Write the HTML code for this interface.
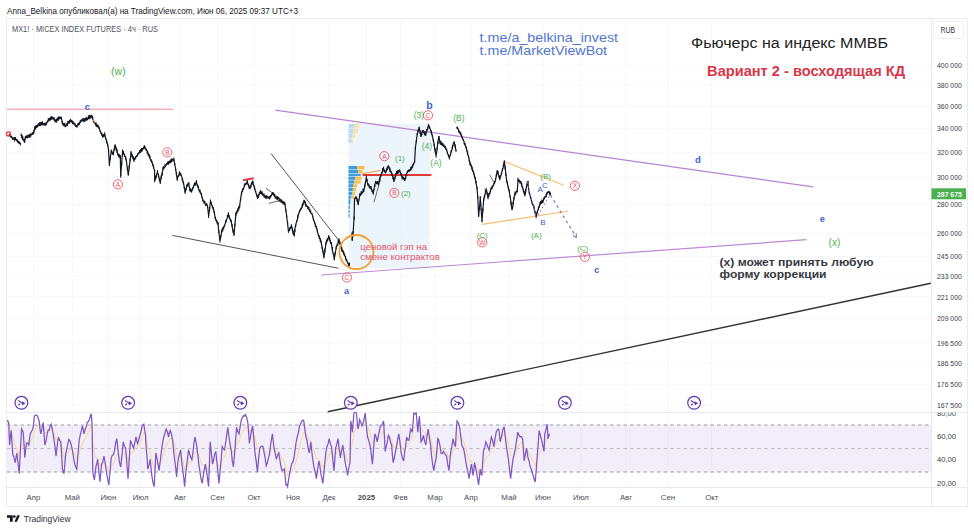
<!DOCTYPE html><html><head><meta charset="utf-8"><style>html,body{margin:0;padding:0;background:#fff;width:974px;height:531px;overflow:hidden}svg{display:block;font-family:"Liberation Sans", sans-serif}</style></head><body>
<svg width="974" height="531" viewBox="0 0 974 531">
<text x="7" y="13.8" font-size="9.6" fill="#131722" textLength="291" lengthAdjust="spacingAndGlyphs">Anna_Belkina опубликовал(а) на TradingView.com, Июн 06, 2025 09:37 UTC+3</text>
<g stroke="#f7f8fa" stroke-width="1"><line x1="33.5" y1="19" x2="33.5" y2="487" /><line x1="72.3" y1="19" x2="72.3" y2="487" /><line x1="108.4" y1="19" x2="108.4" y2="487" /><line x1="140.6" y1="19" x2="140.6" y2="487" /><line x1="180" y1="19" x2="180" y2="487" /><line x1="217.5" y1="19" x2="217.5" y2="487" /><line x1="254" y1="19" x2="254" y2="487" /><line x1="293" y1="19" x2="293" y2="487" /><line x1="328.9" y1="19" x2="328.9" y2="487" /><line x1="366.4" y1="19" x2="366.4" y2="487" /><line x1="400.5" y1="19" x2="400.5" y2="487" /><line x1="435" y1="19" x2="435" y2="487" /><line x1="471" y1="19" x2="471" y2="487" /><line x1="509" y1="19" x2="509" y2="487" /><line x1="543" y1="19" x2="543" y2="487" /><line x1="581" y1="19" x2="581" y2="487" /><line x1="626" y1="19" x2="626" y2="487" /><line x1="668" y1="19" x2="668" y2="487" /><line x1="711.7" y1="19" x2="711.7" y2="487" /><line x1="7" y1="65.0" x2="931" y2="65.0" /><line x1="7" y1="85.0" x2="931" y2="85.0" /><line x1="7" y1="106.2" x2="931" y2="106.2" /><line x1="7" y1="128.5" x2="931" y2="128.5" /><line x1="7" y1="152.2" x2="931" y2="152.2" /><line x1="7" y1="177.4" x2="931" y2="177.4" /><line x1="7" y1="204.4" x2="931" y2="204.4" /><line x1="7" y1="233.3" x2="931" y2="233.3" /><line x1="7" y1="256.5" x2="931" y2="256.5" /><line x1="7" y1="276.1" x2="931" y2="276.1" /><line x1="7" y1="296.8" x2="931" y2="296.8" /><line x1="7" y1="318.6" x2="931" y2="318.6" /><line x1="7" y1="342.7" x2="931" y2="342.7" /><line x1="7" y1="363.1" x2="931" y2="363.1" /><line x1="7" y1="384.6" x2="931" y2="384.6" /><line x1="7" y1="405.1" x2="931" y2="405.1" /></g>
<rect x="6.5" y="18.5" width="961" height="488" fill="none" stroke="#ebecf0" stroke-width="1"/>
<line x1="931.5" y1="19" x2="931.5" y2="506" stroke="#e8e9ee"/>
<line x1="7" y1="412.5" x2="967" y2="412.5" stroke="#e8e9ee"/>
<line x1="7" y1="487.5" x2="967" y2="487.5" stroke="#e8e9ee"/>
<rect x="933.5" y="21.5" width="30" height="17" rx="2" fill="#fff" stroke="#eceef2"/>
<text x="940.5" y="32.9" font-size="8.6" fill="#333" textLength="14.6" lengthAdjust="spacingAndGlyphs">RUB</text>
<text x="937" y="67.8" font-size="7.6" fill="#3a3d45" textLength="24.8" lengthAdjust="spacingAndGlyphs">400 000</text>
<text x="937" y="87.8" font-size="7.6" fill="#3a3d45" textLength="24.8" lengthAdjust="spacingAndGlyphs">380 000</text>
<text x="937" y="109.0" font-size="7.6" fill="#3a3d45" textLength="24.8" lengthAdjust="spacingAndGlyphs">360 000</text>
<text x="937" y="131.3" font-size="7.6" fill="#3a3d45" textLength="24.8" lengthAdjust="spacingAndGlyphs">340 000</text>
<text x="937" y="155.0" font-size="7.6" fill="#3a3d45" textLength="24.8" lengthAdjust="spacingAndGlyphs">320 000</text>
<text x="937" y="180.2" font-size="7.6" fill="#3a3d45" textLength="24.8" lengthAdjust="spacingAndGlyphs">300 000</text>
<text x="937" y="207.2" font-size="7.6" fill="#3a3d45" textLength="24.8" lengthAdjust="spacingAndGlyphs">280 000</text>
<text x="937" y="236.1" font-size="7.6" fill="#3a3d45" textLength="24.8" lengthAdjust="spacingAndGlyphs">260 000</text>
<text x="937" y="259.3" font-size="7.6" fill="#3a3d45" textLength="24.8" lengthAdjust="spacingAndGlyphs">245 000</text>
<text x="937" y="278.9" font-size="7.6" fill="#3a3d45" textLength="24.8" lengthAdjust="spacingAndGlyphs">233 000</text>
<text x="937" y="299.6" font-size="7.6" fill="#3a3d45" textLength="24.8" lengthAdjust="spacingAndGlyphs">221 000</text>
<text x="937" y="321.4" font-size="7.6" fill="#3a3d45" textLength="24.8" lengthAdjust="spacingAndGlyphs">209 000</text>
<text x="937" y="345.5" font-size="7.6" fill="#3a3d45" textLength="24.8" lengthAdjust="spacingAndGlyphs">196 500</text>
<text x="937" y="365.9" font-size="7.6" fill="#3a3d45" textLength="24.8" lengthAdjust="spacingAndGlyphs">186 500</text>
<text x="937" y="387.4" font-size="7.6" fill="#3a3d45" textLength="24.8" lengthAdjust="spacingAndGlyphs">176 500</text>
<text x="937" y="407.9" font-size="7.6" fill="#3a3d45" textLength="24.8" lengthAdjust="spacingAndGlyphs">167 500</text>
<rect x="931.5" y="188.3" width="34.5" height="11" fill="#4caf50"/>
<text x="937" y="196.6" font-size="7.6" fill="#fff" font-weight="bold" textLength="24.8" lengthAdjust="spacingAndGlyphs">287 675</text>
<text x="12" y="31.6" font-size="9.2" fill="#50535e" textLength="146" lengthAdjust="spacingAndGlyphs">MX1! · MICEX INDEX FUTURES · 4ч · RUS</text>
<text x="33.5" y="500" font-size="7.8" fill="#4a4d57" text-anchor="middle">Апр</text>
<text x="72.3" y="500" font-size="7.8" fill="#4a4d57" text-anchor="middle">Май</text>
<text x="108.4" y="500" font-size="7.8" fill="#4a4d57" text-anchor="middle">Июн</text>
<text x="140.6" y="500" font-size="7.8" fill="#4a4d57" text-anchor="middle">Июл</text>
<text x="180" y="500" font-size="7.8" fill="#4a4d57" text-anchor="middle">Авг</text>
<text x="217.5" y="500" font-size="7.8" fill="#4a4d57" text-anchor="middle">Сен</text>
<text x="254" y="500" font-size="7.8" fill="#4a4d57" text-anchor="middle">Окт</text>
<text x="293" y="500" font-size="7.8" fill="#4a4d57" text-anchor="middle">Ноя</text>
<text x="328.9" y="500" font-size="7.8" fill="#4a4d57" text-anchor="middle">Дек</text>
<text x="366.4" y="500" font-size="7.8" fill="#4a4d57" text-anchor="middle" font-weight="bold">2025</text>
<text x="400.5" y="500" font-size="7.8" fill="#4a4d57" text-anchor="middle">Фев</text>
<text x="435" y="500" font-size="7.8" fill="#4a4d57" text-anchor="middle">Мар</text>
<text x="471" y="500" font-size="7.8" fill="#4a4d57" text-anchor="middle">Апр</text>
<text x="509" y="500" font-size="7.8" fill="#4a4d57" text-anchor="middle">Май</text>
<text x="543" y="500" font-size="7.8" fill="#4a4d57" text-anchor="middle">Июн</text>
<text x="581" y="500" font-size="7.8" fill="#4a4d57" text-anchor="middle">Июл</text>
<text x="626" y="500" font-size="7.8" fill="#4a4d57" text-anchor="middle">Авг</text>
<text x="668" y="500" font-size="7.8" fill="#4a4d57" text-anchor="middle">Сен</text>
<text x="711.7" y="500" font-size="7.8" fill="#4a4d57" text-anchor="middle">Окт</text>
<rect x="7" y="425" width="924" height="47" fill="#7e57c2" fill-opacity="0.1"/>
<line x1="7" y1="425" x2="931" y2="425" stroke="#9a9ca6" stroke-width="1" stroke-dasharray="3.5,3.2"/>
<line x1="7" y1="448.6" x2="931" y2="448.6" stroke="#b8bac2" stroke-width="1" stroke-dasharray="3.5,3.2"/>
<line x1="7" y1="472" x2="931" y2="472" stroke="#9a9ca6" stroke-width="1" stroke-dasharray="3.5,3.2"/>
<text x="937" y="438.7" font-size="7.6" fill="#3a3d45">60,00</text>
<text x="937" y="462.3" font-size="7.6" fill="#3a3d45">40,00</text>
<text x="937" y="485.9" font-size="7.6" fill="#3a3d45">20,00</text>
<defs><clipPath id="rc"><rect x="932" y="412.6" width="35" height="75"/></clipPath></defs><text x="937" y="415.6" font-size="7.6" fill="#3a3d45" clip-path="url(#rc)">80,00</text>
<polyline points="7.2,420.2 8.8,421.5 9.6,429.4 11.2,429.8 12.8,438.0 15.2,446.2 16.8,448.5 19.2,456.9 21.6,447.6 23.2,442.5 24.8,447.6 26.4,446.2 28.8,445.8 30.4,441.8 32.8,437.5 34.4,430.4 37.6,425.7 39.2,424.1 40.8,427.3 43.2,425.8 44.8,432.2 47.2,432.7 51.2,429.9 53.6,432.3 56.0,440.2 58.4,439.2 60.8,440.0 62.4,449.7 64.0,457.7 65.6,456.7 68.8,450.9 71.2,448.9 74.4,453.5 76.8,458.7 79.2,452.5 82.4,443.6 84.0,440.3 87.2,434.4 89.6,429.4 91.2,424.2 92.0,423.7 92.8,439.8 94.4,453.3 96.0,457.5 97.6,458.1 100.0,466.0 101.6,465.4 104.0,462.3 106.4,465.6 108.8,472.1 111.2,467.3 113.6,463.1 116.8,454.9 119.2,456.8 120.8,460.2 123.2,454.1 125.6,452.1 128.0,460.9 130.4,454.0 133.6,452.1 136.0,447.1 137.4,445.8 139.8,442.4 142.2,436.8 143.8,432.6 145.4,433.0 146.2,438.1 147.8,448.4 150.2,452.1 151.8,459.8 154.2,468.8 155.8,463.5 157.4,462.7 159.0,465.3 161.4,460.7 163.8,452.8 166.2,444.9 168.6,442.2 170.2,438.4 172.6,439.0 175.0,446.8 176.6,456.9 178.2,457.7 180.6,455.1 183.0,460.8 184.6,469.4 186.2,469.3 188.6,462.8 191.8,461.7 195.0,453.4 196.6,450.6 199.0,455.7 202.2,464.9 205.4,464.7 208.6,472.0 210.2,461.9 212.6,462.7 215.8,458.9 219.0,467.1 222.2,460.3 224.6,456.8 227.8,447.0 230.2,446.3 233.4,453.2 236.6,444.6 239.0,441.0 241.4,433.8 245.4,427.4 247.8,425.8 249.4,431.7 252.6,429.7 255.0,437.5 257.4,449.0 259.8,448.8 263.0,448.0 266.2,454.0 269.4,454.2 272.4,447.4 274.0,447.7 276.4,451.6 278.8,452.0 282.0,458.2 284.4,461.8 286.0,469.5 287.6,475.2 290.8,472.6 294.0,467.7 297.2,457.5 299.6,446.9 301.2,438.8 303.6,432.6 306.0,434.1 309.2,440.4 310.8,440.9 313.2,448.1 316.4,458.3 318.8,459.2 322.8,467.3 326.0,462.0 329.2,454.2 331.6,451.7 334.0,458.0 335.6,454.7 338.0,449.3 340.4,452.2 342.8,449.8 345.2,454.0 347.6,461.2 350.0,461.6 350.8,448.1 352.4,442.8 354.0,432.9 356.4,426.2 358.0,427.2 359.6,424.6 362.0,425.0 365.2,421.0 367.6,426.3 370.0,432.6 372.4,443.1 374.8,440.0 377.2,440.6 380.4,435.7 383.6,430.8 385.2,437.7 388.4,436.9 391.6,439.6 393.2,447.3 396.4,447.0 398.8,442.6 401.2,446.1 403.6,451.1 406.6,446.4 409.0,444.3 410.6,439.2 412.2,436.9 413.8,428.9 416.2,423.6 417.8,426.5 419.4,423.0 421.0,429.3 423.4,431.3 425.8,435.9 428.2,433.6 430.6,437.4 432.2,445.3 433.8,453.7 436.2,455.1 437.8,449.6 439.4,447.5 441.0,449.3 443.4,450.0 446.6,452.1 449.0,458.3 450.6,456.5 453.0,450.5 455.4,449.2 457.0,439.8 459.4,435.1 461.8,438.4 464.2,442.8 466.6,450.4 469.0,459.8 471.4,461.3 473.0,466.0 474.6,464.9 477.0,468.4 478.6,473.9 480.2,472.3 481.8,473.3 483.4,466.0 485.8,457.9 489.0,455.2 491.4,449.2 493.8,448.3 496.2,442.9 498.6,438.3 500.2,439.5 502.6,436.5 504.2,433.5 505.8,436.2 508.2,443.4 510.6,455.2 513.0,456.6 515.4,453.8 517.8,446.6 520.2,443.4 522.6,441.8 524.2,448.2 526.6,448.2 528.0,451.4 531.2,457.3 535.2,465.5 539.2,453.9 541.6,449.3 544.0,450.0 544.8,444.6 547.2,437.8 548.0,438.1 549.6,436.6" fill="none" stroke="#f7d9a0" stroke-width="1.1"/>
<polyline points="7.2,420.2 8.0,421.6 8.8,424.2 9.6,445.0 10.4,436.7 11.2,430.6 12.0,443.1 12.8,454.6 14.0,457.2 15.2,462.6 16.0,457.9 16.8,453.0 18.0,463.0 19.2,473.8 20.4,450.0 21.6,429.0 22.4,430.6 23.2,432.2 24.0,443.5 24.8,457.8 25.6,450.4 26.4,443.4 27.6,442.8 28.8,445.0 29.6,438.1 30.4,433.8 31.6,431.2 32.8,429.0 33.6,423.6 34.4,416.2 35.5,415.0 36.5,415.3 37.6,416.2 38.4,419.0 39.2,421.0 40.0,428.8 40.8,433.8 42.0,428.4 43.2,422.6 44.0,433.5 44.8,445.0 46.0,440.9 47.2,433.8 48.2,429.9 49.2,430.1 50.2,425.9 51.2,424.2 52.4,429.5 53.6,437.0 54.8,445.4 56.0,456.2 57.2,446.0 58.4,437.0 59.6,440.4 60.8,441.8 61.6,454.4 62.4,469.0 63.2,471.7 64.0,473.8 64.8,464.6 65.6,454.6 66.7,449.1 67.7,444.6 68.8,439.4 70.0,440.8 71.2,445.0 72.3,449.5 73.3,455.8 74.4,462.6 75.6,466.4 76.8,469.0 78.0,454.4 79.2,440.2 80.3,434.8 81.3,430.9 82.4,425.8 83.2,429.7 84.0,433.8 85.1,429.4 86.1,427.3 87.2,422.6 88.4,421.6 89.6,419.4 90.4,415.8 91.2,413.8 92.0,422.6 92.8,472.2 93.6,476.4 94.4,480.2 95.2,473.1 96.0,465.8 96.8,463.8 97.6,459.4 98.8,471.3 100.0,481.8 100.8,472.3 101.6,464.2 102.8,461.7 104.0,456.2 105.2,463.0 106.4,472.2 107.6,478.3 108.8,485.0 110.0,472.2 111.2,457.8 112.4,455.1 113.6,454.6 114.7,449.2 115.7,442.5 116.8,438.6 118.0,450.1 119.2,460.6 120.0,464.6 120.8,467.0 122.0,454.6 123.2,441.8 124.4,446.2 125.6,448.2 126.8,462.8 128.0,478.6 129.2,460.0 130.4,440.2 131.5,443.2 132.5,445.8 133.6,448.2 134.8,442.5 136.0,437.0 137.4,443.4 138.6,440.5 139.8,435.4 141.0,432.0 142.2,425.8 143.0,424.9 143.8,424.2 144.6,429.5 145.4,433.8 146.2,448.2 147.0,457.2 147.8,469.0 149.0,464.8 150.2,459.4 151.0,467.9 151.8,475.4 153.0,482.6 154.2,486.6 155.0,470.8 155.8,453.0 156.6,456.3 157.4,461.0 158.2,465.4 159.0,470.6 160.2,461.5 161.4,451.4 162.6,442.7 163.8,437.0 165.0,432.9 166.2,429.0 167.4,431.9 168.6,437.0 169.4,432.6 170.2,430.6 171.4,434.0 172.6,440.2 173.8,452.3 175.0,462.6 175.8,468.6 176.6,477.0 177.4,467.4 178.2,459.4 179.4,454.3 180.6,449.8 181.8,462.2 183.0,472.2 183.8,478.1 184.6,486.6 185.4,477.6 186.2,469.0 187.4,459.6 188.6,449.8 189.7,454.2 190.7,457.2 191.8,459.4 192.9,453.1 193.9,443.8 195.0,437.0 195.8,440.7 196.6,445.0 197.8,454.9 199.0,465.8 200.1,472.9 201.1,479.0 202.2,483.4 203.3,475.9 204.3,469.6 205.4,464.2 206.5,470.8 207.5,478.3 208.6,486.6 209.4,464.2 210.2,441.8 211.4,453.3 212.6,464.2 213.7,459.2 214.7,454.1 215.8,451.4 216.9,461.8 217.9,472.3 219.0,483.4 220.1,471.3 221.1,460.3 222.2,446.6 223.4,448.8 224.6,449.8 225.7,442.4 226.7,435.2 227.8,427.4 229.0,436.8 230.2,445.0 231.3,450.9 232.3,460.9 233.4,467.0 234.5,454.7 235.5,441.8 236.6,427.4 237.8,431.6 239.0,433.8 240.2,426.3 241.4,419.4 242.4,417.9 243.4,415.7 244.4,416.2 245.4,414.6 246.6,417.2 247.8,422.6 248.6,431.6 249.4,443.4 250.5,436.6 251.5,430.6 252.6,425.8 253.8,438.9 255.0,453.0 256.2,461.2 257.4,472.2 258.6,458.6 259.8,448.2 260.9,446.6 261.9,445.9 263.0,446.6 264.1,452.6 265.1,457.9 266.2,465.8 267.3,463.3 268.3,458.7 269.4,454.6 270.4,446.5 271.4,439.9 272.4,433.8 273.2,440.5 274.0,448.2 275.2,453.4 276.4,459.4 277.6,455.0 278.8,453.0 279.9,460.0 280.9,466.3 282.0,470.6 283.2,469.7 284.4,469.0 285.2,476.9 286.0,485.0 286.8,484.5 287.6,486.6 288.7,478.9 289.7,473.3 290.8,467.4 291.9,463.4 292.9,462.1 294.0,457.8 295.1,449.8 296.1,442.4 297.2,437.0 298.4,432.8 299.6,425.8 300.4,424.3 301.2,422.6 302.4,420.3 303.6,420.2 304.8,428.7 306.0,437.0 307.1,440.8 308.1,447.8 309.2,453.0 310.0,448.9 310.8,441.8 312.0,453.4 313.2,462.6 314.3,468.6 315.3,472.5 316.4,478.6 317.6,469.4 318.8,461.0 319.8,465.5 320.8,473.1 321.8,477.9 322.8,483.4 323.9,473.6 324.9,461.5 326.0,451.4 327.1,446.2 328.1,443.9 329.2,438.6 330.4,444.2 331.6,446.6 332.8,459.7 334.0,470.6 334.8,460.4 335.6,448.2 336.8,444.4 338.0,438.6 339.2,449.0 340.4,457.8 341.6,450.5 342.8,445.0 344.0,453.9 345.2,462.6 346.4,468.5 347.6,475.4 348.8,467.5 350.0,462.6 350.8,421.0 351.6,425.1 352.4,432.2 353.2,421.9 354.0,413.0 355.2,412.2 356.4,413.0 357.2,421.6 358.0,429.0 358.8,425.7 359.6,419.4 360.8,422.4 362.0,425.8 363.1,422.9 364.1,418.8 365.2,413.0 366.4,426.5 367.6,437.0 368.8,440.6 370.0,445.0 371.2,453.7 372.4,464.2 373.6,448.1 374.8,433.8 376.0,436.8 377.2,441.8 378.3,435.5 379.3,431.5 380.4,425.8 381.5,425.5 382.5,423.7 383.6,421.0 384.4,436.1 385.2,451.4 386.3,446.6 387.3,441.7 388.4,435.4 389.5,437.3 390.5,442.3 391.6,445.0 392.4,455.1 393.2,462.6 394.3,458.2 395.3,452.7 396.4,446.6 397.6,440.1 398.8,433.8 400.0,442.4 401.2,453.0 402.4,457.9 403.6,461.0 404.6,452.5 405.6,446.0 406.6,437.0 407.8,440.1 409.0,440.2 409.8,434.3 410.6,429.0 411.4,430.3 412.2,432.2 413.0,424.0 413.8,413.0 415.0,413.7 416.2,413.0 417.0,421.5 417.8,432.2 418.6,423.0 419.4,416.2 420.2,427.9 421.0,441.8 422.2,439.9 423.4,435.4 424.6,441.2 425.8,445.0 427.0,435.9 428.2,429.0 429.4,438.0 430.6,445.0 431.4,454.5 432.2,461.0 433.0,466.3 433.8,470.6 435.0,463.7 436.2,457.8 437.0,448.4 437.8,438.6 438.6,439.8 439.4,443.4 440.2,446.6 441.0,453.0 442.2,453.7 443.4,451.4 444.5,453.5 445.5,454.7 446.6,456.2 447.8,464.8 449.0,470.6 449.8,461.6 450.6,453.0 451.8,447.0 453.0,438.6 454.2,443.6 455.4,446.6 456.2,432.9 457.0,421.0 458.2,422.6 459.4,425.8 460.6,434.7 461.8,445.0 463.0,447.4 464.2,451.4 465.4,458.9 466.6,465.8 467.8,471.4 469.0,478.6 470.2,471.1 471.4,464.2 472.2,468.6 473.0,475.4 473.8,470.3 474.6,462.6 475.8,468.5 477.0,475.4 477.8,480.1 478.6,485.0 479.4,477.3 480.2,469.0 481.0,473.5 481.8,475.4 482.6,463.1 483.4,451.4 484.6,447.9 485.8,441.8 486.9,444.5 487.9,447.2 489.0,449.8 490.2,443.5 491.4,437.0 492.6,440.3 493.8,446.6 495.0,439.2 496.2,432.2 497.4,429.6 498.6,429.0 499.4,433.8 500.2,441.8 501.4,437.2 502.6,430.6 503.4,428.0 504.2,427.4 505.0,434.5 505.8,441.8 507.0,450.5 508.2,457.8 509.4,468.4 510.6,478.6 511.8,468.4 513.0,459.4 514.2,453.9 515.4,448.2 516.6,440.4 517.8,432.2 519.0,435.5 520.2,437.0 521.4,436.5 522.6,438.6 523.4,450.0 524.2,461.0 525.4,453.8 526.6,448.2 528.0,457.8 529.1,460.8 530.1,466.1 531.2,469.0 532.2,472.2 533.2,475.6 534.2,479.5 535.2,481.9 536.2,470.4 537.2,456.1 538.2,443.8 539.2,430.6 540.4,435.4 541.6,440.2 542.8,445.8 544.0,451.4 544.8,433.8 546.0,429.6 547.2,424.2 548.0,438.6 548.8,436.0 549.6,433.8" fill="none" stroke="#7e57c2" stroke-width="1.25" stroke-linejoin="miter"/>
<rect x="348.5" y="123.5" width="81.5" height="145" fill="#e3f0fb" fill-opacity="0.65"/>
<rect x="348.5" y="123.8" width="5.5" height="4.1" fill="#b9dcf6"/>
<rect x="354.0" y="123.8" width="4.9" height="4.1" fill="#f8e3b0"/>
<rect x="348.5" y="128.5" width="4.5" height="4.9" fill="#b9dcf6"/>
<rect x="353.0" y="128.5" width="5.0" height="4.9" fill="#f8e3b0"/>
<rect x="348.5" y="134" width="3.5" height="4.4" fill="#b9dcf6"/>
<rect x="352.0" y="134" width="3.0" height="4.4" fill="#f8e3b0"/>
<rect x="348.5" y="139" width="2.5" height="4.0" fill="#b9dcf6"/>
<rect x="351.0" y="139" width="2.0" height="4.0" fill="#f8e3b0"/>
<rect x="348.5" y="166" width="8.5" height="3.4" fill="#3d9be0"/>
<rect x="357.0" y="166" width="7.5" height="3.4" fill="#f4c04e"/>
<rect x="348.5" y="170" width="9.5" height="3.2" fill="#3d9be0"/>
<rect x="358.0" y="170" width="4.6" height="3.2" fill="#f4c04e"/>
<rect x="348.5" y="173.8" width="12.3" height="2.2" fill="#3d9be0"/>
<rect x="348.5" y="176.6" width="6.5" height="3.2" fill="#3d9be0"/>
<rect x="355.0" y="176.6" width="6.7" height="3.2" fill="#f4c04e"/>
<rect x="348.5" y="180.4" width="5.5" height="3.2" fill="#3d9be0"/>
<rect x="354.0" y="180.4" width="6.8" height="3.2" fill="#f4c04e"/>
<rect x="348.5" y="184.2" width="4.5" height="3.2" fill="#3d9be0"/>
<rect x="353.0" y="184.2" width="4.0" height="3.2" fill="#f4c04e"/>
<rect x="348.5" y="188" width="4.3" height="3.1" fill="#3d9be0"/>
<rect x="352.8" y="188" width="3.2" height="3.1" fill="#f4c04e"/>
<rect x="348.5" y="191.7" width="3.8" height="3.2" fill="#3d9be0"/>
<rect x="352.3" y="191.7" width="2.7" height="3.2" fill="#f4c04e"/>
<rect x="348.5" y="195.5" width="2.8" height="3.1" fill="#3d9be0"/>
<rect x="351.3" y="195.5" width="2.7" height="3.1" fill="#f4c04e"/>
<rect x="348.5" y="199.2" width="1.9" height="5.2" fill="#3d9be0"/>
<rect x="348.5" y="205.5" width="1.5" height="3.4" fill="#3d9be0"/>
<rect x="348.5" y="210" width="1.3" height="2.9" fill="#3d9be0"/>
<rect x="348.5" y="214" width="1.1" height="3.4" fill="#3d9be0"/>
<line x1="7" y1="109.2" x2="173" y2="109.2" stroke="#f08a96" stroke-width="1"/>
<line x1="275.4" y1="110.2" x2="813" y2="186.9" stroke="#b982d4" stroke-width="1.2"/>
<line x1="321.2" y1="275" x2="806.4" y2="239.7" stroke="#c088d8" stroke-width="1.2"/>
<line x1="172.3" y1="235.4" x2="338.6" y2="268.3" stroke="#555" stroke-width="1"/>
<line x1="271" y1="153.5" x2="340" y2="242" stroke="#555" stroke-width="1"/>
<line x1="327.7" y1="411.8" x2="930.8" y2="283.2" stroke="#333" stroke-width="1.4"/>
<line x1="362.6" y1="175" x2="431.4" y2="175" stroke="#e53935" stroke-width="2.2"/>
<line x1="361.7" y1="174" x2="380.5" y2="170.3" stroke="#f0a030" stroke-width="1"/>
<line x1="243" y1="180.3" x2="253.7" y2="178.3" stroke="#e53945" stroke-width="2"/>
<line x1="265.9" y1="188.3" x2="279.1" y2="197.7" stroke="#444" stroke-width="0.8"/>
<line x1="268.8" y1="203.3" x2="280" y2="200.5" stroke="#444" stroke-width="0.8"/>
<line x1="489.7" y1="174.7" x2="493.9" y2="182.4" stroke="#444" stroke-width="0.8"/>
<line x1="373.9" y1="202.3" x2="380.5" y2="179.7" stroke="#444" stroke-width="0.8"/>
<line x1="504.3" y1="161.3" x2="563.2" y2="184.9" stroke="#f4bd70" stroke-width="1.1"/>
<line x1="482.2" y1="224.4" x2="567.8" y2="211.2" stroke="#f4bd70" stroke-width="1.1"/>
<path d="M9.3,134.7 L10.0,135.4 L10.8,135.8 L11.5,136.5 L12.5,138.9 L13.5,139.0 L14.5,139.3 L15.5,138.5 L16.5,140.7 L17.5,141.0 L18.2,142.8 L18.9,141.7 L19.6,143.1 L20.3,143.6M21.2,134.7 L22.1,137.8 L22.9,139.4 L23.8,139.5 L24.6,142.3 L25.4,137.2 L26.2,136.0 L27.1,136.6 L27.9,135.5 L28.8,136.4 L29.5,135.1 L30.3,134.0 L31.0,134.5 L31.7,134.3 L32.5,134.0 L33.2,133.7 L33.9,132.1 L34.7,127.9 L35.6,126.4 L36.4,127.2 L37.2,126.4 L38.1,125.3 L39.0,124.0 L39.8,125.5 L40.7,125.3 L41.5,122.9 L42.4,123.2 L43.2,124.8 L44.1,123.8 L44.9,124.5 L45.8,123.3 L46.6,123.5 L47.5,121.1 L48.3,121.2 L49.2,118.7 L50.0,118.6 L50.9,118.1 L51.7,117.3 L52.5,117.6 L53.4,118.0 L54.2,119.1 L55.1,120.9 L55.9,121.1 L56.7,119.2 L57.5,119.9 L58.4,118.9 L59.2,117.1 L60.0,117.7 L60.6,117.4 L61.2,117.9 L62.2,121.5 L63.1,124.5 L63.8,124.8 L64.5,123.8 L65.2,126.4 L65.9,125.4 L66.7,125.4 L67.5,125.1 L68.2,122.0 L69.0,121.7 L69.8,120.3 L70.6,120.7 L71.4,122.0 L72.1,121.2 L72.9,121.4 L73.6,122.7 L74.4,123.5 L75.2,125.7 L76.1,126.5 L76.9,126.8 L77.7,125.0 L78.5,123.4 L79.4,124.2 L80.2,122.1 L81.0,120.7 L81.8,120.9 L82.6,119.1 L83.4,118.7 L84.3,120.1 L85.1,119.1 L85.9,118.0 L86.7,118.8 L87.4,119.5 L88.2,118.3 L88.9,118.4 L89.7,116.1 L90.4,117.7 L91.2,115.3 L91.9,116.0 L92.7,119.1 L93.4,120.3 L94.2,122.6 L95.0,122.9 L95.7,124.3 L96.5,126.0 L97.2,125.0 L98.0,126.4 L99.0,127.6 L100.0,130.7 L100.9,132.8 L101.8,134.0 L102.7,136.7 L103.7,134.6 L104.7,134.5 L105.7,138.3 L106.6,141.2 L107.6,144.7 L108.5,149.6 L109.4,164.6 L110.3,157.2 L111.3,151.4 L112.2,152.4 L113.2,154.3 L114.2,149.1 L115.1,144.9 L115.8,147.9 L116.5,149.1 L117.2,152.0 L117.9,154.3 L118.7,154.4 L119.5,155.8 L120.3,157.1 L120.7,175.9 L121.7,162.4 L122.6,151.4 L123.5,152.7 L124.5,155.2 L125.5,156.8 L126.4,160.9 L127.4,168.6 L128.3,175.0 L129.2,167.6 L130.2,159.1 L131.1,152.4 L131.8,154.2 L132.5,157.3 L133.2,157.0 L133.9,159.9 L134.7,159.6 L135.4,157.5 L136.2,156.5 L136.9,156.3 L137.7,154.3 L138.5,153.1 L139.3,152.4 L140.2,151.9 L141.0,151.8 L141.8,149.1 L142.7,149.5 L143.5,148.2 L144.3,146.7 L145.0,148.4 L145.8,149.1 L146.5,150.3 L147.3,150.8 L148.0,153.3 L148.7,154.0 L149.4,155.5 L150.2,158.9 L150.9,159.9 L151.6,161.3 L152.4,163.2 L153.1,165.1 L153.9,169.1 L154.6,170.3 L154.6,180.6 L155.3,179.5 L156.1,176.8 L156.8,173.7 L157.5,172.2 L158.2,174.1 L158.9,176.8 L159.6,179.8 L160.3,182.5 L161.2,176.9 L162.2,173.0 L163.1,168.4 L163.8,166.8 L164.5,167.7 L165.2,166.8 L165.9,164.6 L166.7,164.2 L167.4,162.8 L168.2,164.1 L168.9,161.9 L169.7,161.8 L170.4,161.0 L171.2,159.6 L171.9,160.4 L172.9,159.6 L173.8,159.4 L174.7,164.0 L175.6,168.8 L176.4,174.0 L177.2,179.2 L177.9,176.5 L178.7,175.4 L179.4,173.5 L180.4,173.2 L181.3,175.4 L182.2,178.1 L183.2,182.0 L184.1,186.1 L185.1,192.4 L186.0,188.8 L186.9,185.8 L187.9,183.7 L188.8,183.9 L189.8,189.5 L190.7,189.2 L191.6,191.4 L192.6,188.5 L193.5,186.7 L194.2,184.8 L194.9,184.6 L195.7,183.3 L196.4,182.0 L197.3,185.5 L198.2,187.6 L198.9,189.4 L199.6,191.0 L200.4,192.9 L201.1,193.3 L202.0,196.8 L202.9,200.8 L203.9,201.3 L204.8,202.7 L205.7,205.2 L206.7,204.3 L207.6,206.5 L208.6,215.9 L209.6,208.9 L210.5,200.8 L211.4,204.0 L212.4,206.5 L213.3,208.1 L214.2,212.1 L215.2,217.8 L215.9,220.1 L216.6,221.6 L217.3,222.3 L218.0,223.4 L218.9,232.5 L219.9,240.4 L220.9,236.5 L221.8,230.9 L222.7,228.1 L223.7,227.2 L224.6,225.3 L225.6,222.5 L226.5,219.6 L227.4,217.7 L228.4,214.0 L229.3,217.3 L230.3,219.8 L231.2,221.5 L231.9,225.0 L232.6,229.1 L233.3,231.9 L234.0,234.7 L234.9,224.9 L235.9,214.0 L236.9,211.4 L237.8,210.2 L238.7,207.1 L239.6,206.5 L240.6,198.9 L241.5,193.3 L242.2,191.1 L242.9,188.5 L243.7,188.5 L244.4,185.8 L245.3,184.7 L246.3,183.6 L247.2,182.0 L248.1,184.4 L249.0,186.7 L249.9,188.3 L250.6,186.6 L251.4,183.7 L252.1,184.1 L252.8,181.7 L253.7,185.6 L254.6,188.3 L255.3,190.7 L256.1,193.1 L256.8,195.8 L257.5,197.7 L258.2,195.1 L258.9,195.5 L259.6,192.8 L260.3,192.0 L261.1,191.7 L261.9,193.0 L262.6,194.9 L263.4,194.4 L264.2,196.5 L265.0,196.7 L265.8,198.1 L266.6,197.0 L267.4,196.9 L268.1,197.3 L268.9,198.0 L269.7,197.7 L270.4,197.2 L271.1,195.7 L271.8,194.5 L272.5,193.0 L273.2,193.1 L273.9,194.4 L274.7,195.9 L275.4,197.7 L276.2,198.7 L277.0,198.0 L277.8,199.1 L278.6,198.0 L279.4,198.6 L280.2,199.5 L281.0,200.5 L281.8,201.5 L282.5,202.1 L283.3,202.6 L284.0,202.2 L284.8,203.3 L285.8,209.9 L286.7,216.5 L287.6,224.0 L288.5,231.6 L289.2,230.1 L289.9,227.8 L290.7,228.3 L291.4,225.9 L292.1,227.5 L292.8,231.9 L293.5,234.2 L294.2,235.4 L294.9,229.0 L295.7,225.2 L296.4,222.3 L297.1,220.4 L297.8,217.9 L298.5,213.9 L299.2,212.4 L299.9,210.5 L300.6,208.9 L301.3,208.3 L302.0,207.6 L302.7,203.7 L303.4,202.8 L304.1,200.7 L304.8,201.2 L305.6,203.6 L306.3,206.2 L307.0,206.4 L307.7,206.4 L308.4,209.1 L309.1,209.2 L309.8,210.1 L310.5,212.5 L311.2,213.5 L311.9,213.7 L312.6,215.8 L313.5,220.0 L314.5,222.0 L315.4,225.2 L316.1,226.3 L316.9,228.6 L317.6,232.2 L318.3,234.6 L319.0,236.4 L319.7,237.9 L320.4,239.4 L321.1,242.2 L322.0,246.8 L323.0,251.7 L323.9,257.2 L324.9,251.5 L325.8,244.0 L326.5,240.8 L327.2,240.9 L327.9,239.3 L328.6,236.5 L329.5,238.0 L330.5,242.6 L331.4,244.0 L332.1,248.3 L332.9,252.6 L333.6,254.8 L334.3,259.1 L335.2,253.1 L336.2,247.8 L336.9,245.6 L337.6,245.3 L338.3,242.4 L339.0,240.3 L339.7,242.3 L340.4,244.8 L341.1,246.8 L341.8,249.7 L342.5,250.0 L343.2,251.5 L343.9,254.8 L344.6,255.4 L345.3,256.7 L346.1,260.3 L346.8,260.4 L347.5,262.9 L348.4,263.2 L349.4,264.7M352.0,234.0 L352.2,240.3 L353.1,232.8 L354.1,217.7 L354.5,199.4 L355.2,198.2 L356.0,197.0 L356.7,198.4 L357.4,201.0 L358.1,203.5 L358.9,200.5 L359.7,195.2 L360.5,195.2 L361.3,193.9 L362.2,192.4 L363.0,192.1 L363.8,190.0 L364.7,187.0 L365.5,181.9 L366.4,177.6 L367.2,181.9 L368.0,185.0 L368.8,184.6 L369.6,187.1 L370.3,187.1 L371.1,188.0 L371.8,190.4 L372.5,191.8 L373.2,193.2 L374.0,188.8 L374.9,184.4 L375.7,181.8 L376.6,183.6 L377.4,182.2 L378.3,183.8 L379.2,181.0 L380.0,177.9 L380.9,175.5 L381.8,172.6 L382.6,171.3 L383.5,168.3 L384.2,170.9 L384.9,170.4 L385.6,172.4 L386.5,170.7 L387.3,167.7 L388.2,166.2 L389.1,168.1 L389.9,169.4 L390.8,171.4 L391.6,172.9 L392.4,175.2 L393.1,177.6 L393.9,180.7 L394.8,179.0 L395.6,175.2 L396.5,172.4 L397.3,171.1 L398.1,172.4 L398.8,172.1 L399.6,170.3 L400.5,172.6 L401.3,174.2 L402.2,177.6 L403.1,177.5 L403.9,177.9 L404.8,179.7 L405.7,176.9 L406.5,173.8 L407.4,172.4 L408.2,170.9 L409.0,170.1 L409.9,170.1 L410.7,170.1 L411.5,168.3 L412.3,167.4 L413.1,165.0 L413.8,163.4 L414.6,162.1 L415.4,147.7 L416.3,141.2 L417.2,134.5 L418.1,130.9 L419.1,127.9 L420.1,131.7 L421.0,136.4 L421.9,132.4 L422.9,130.7 L423.6,131.1 L424.3,133.8 L425.0,132.6 L425.7,134.5 L426.4,132.2 L427.1,130.1 L427.8,128.4 L428.5,125.1 L429.2,126.2 L429.9,128.3 L430.7,130.1 L431.4,132.6 L432.4,136.1 L433.3,140.1 L434.0,143.7 L434.7,148.8 L435.4,152.3 L436.1,155.2 L437.0,149.9 L438.0,141.4 L438.9,136.4 L440.0,142.3 L440.8,141.8 L441.5,144.3 L442.3,145.5 L443.0,145.2 L443.8,146.0 L444.5,147.2 L445.2,146.6 L445.9,148.6 L446.6,149.8 L447.5,153.4 L448.5,155.7 L449.4,157.4 L450.4,155.0 L451.3,150.8 L452.0,149.9 L452.7,145.9 L453.4,143.4 L454.1,142.3 L455.1,145.7 L456.0,150.8M457.0,127.2 L457.7,128.6 L458.5,130.3 L459.2,132.3 L460.0,133.1 L460.7,133.8 L461.6,136.2 L462.5,138.6 L463.4,140.0 L464.2,142.4 L465.1,145.2 L465.9,146.5 L466.8,150.2 L467.6,154.3 L468.5,156.2 L469.3,160.3 L470.1,163.9 L471.0,165.8 L471.9,167.4 L472.7,170.5 L473.6,172.4 L474.4,175.5 L475.3,179.0 L476.1,183.6 L477.0,187.5 L477.8,197.6 L478.6,216.3 L479.5,207.5 L480.3,197.6 L481.1,208.5 L482.0,221.4 L482.9,209.2 L483.7,199.3 L484.6,196.0 L485.4,192.8 L486.3,189.2 L487.1,193.1 L488.0,197.6 L488.8,194.6 L489.7,193.3 L490.5,190.8 L491.3,187.9 L492.2,187.0 L493.0,185.8 L493.9,184.0 L494.7,182.4 L495.6,179.6 L496.4,174.8 L497.3,170.5 L498.1,174.3 L499.0,176.1 L499.8,179.0 L500.6,175.8 L501.5,173.9 L502.2,170.1 L502.9,168.8 L503.6,165.0 L504.3,161.3 L505.1,167.3 L505.8,173.0 L506.6,180.7 L507.5,184.1 L508.3,187.9 L509.2,190.8 L509.9,195.3 L510.6,199.5 L511.3,205.3 L512.0,209.5 L512.8,206.7 L513.5,200.9 L514.2,196.4 L515.0,193.7 L515.8,192.3 L516.5,191.5 L517.3,190.7 L518.0,180.0 L518.8,181.1 L519.5,180.4 L520.2,182.6 L521.0,182.4 L521.8,185.7 L522.6,187.7 L523.4,190.2 L524.1,191.9 L524.9,195.2 L525.6,192.3 L526.4,187.0 L527.1,184.2 L527.9,182.4 L528.6,188.9 L529.4,193.7 L530.1,195.5 L530.9,198.0 L531.6,201.2 L532.4,203.9 L533.1,204.7 L533.9,207.2 L534.7,211.4 L535.4,213.3 L536.2,216.3 L536.9,213.0 L537.7,210.6 L538.4,208.8 L539.2,206.3 L539.9,204.7 L540.7,202.0 L541.4,202.9 L542.2,200.5 L542.9,201.2 L543.7,199.4 L544.4,197.5 L545.2,196.7 L546.0,196.8 L546.7,193.5 L547.5,192.2 L548.2,192.2 L549.0,191.8 L549.7,193.4 L550.5,194.4" fill="none" stroke="#131722" stroke-width="1.2" stroke-linejoin="miter"/>
<path d="M9.3,134.0v2.1M10.4,134.0v3.4M11.5,135.9v1.5M12.5,137.3v2.4M13.5,137.4v2.1M14.5,137.1v4.3M15.5,136.9v3.1M16.5,139.0v1.1M17.5,139.6v1.9M18.4,141.1v1.6M19.4,142.4v1.7M20.3,142.4v3.1M21.2,133.5v2.7M22.1,135.0v3.4M22.9,136.5v3.8M23.8,139.6v2.0M24.6,141.6v1.1M25.4,136.0v2.9M26.2,136.5v1.6M27.1,135.7v2.7M27.9,135.0v2.8M28.8,134.6v2.9M29.9,134.2v3.9M31.0,133.9v2.6M32.0,132.6v2.3M32.9,132.1v2.7M33.9,130.1v3.1M34.7,126.5v3.4M35.6,125.7v3.9M36.4,125.1v2.8M37.2,124.9v2.5M38.1,123.4v3.4M39.0,122.9v2.5M39.8,121.9v4.2M40.7,122.2v3.5M41.5,121.7v2.8M42.4,121.2v4.0M43.2,123.0v1.6M44.1,122.7v2.6M44.9,122.7v3.1M45.8,123.5v2.3M46.6,122.1v2.4M47.5,120.4v1.7M48.3,117.9v2.5M49.2,118.6v2.0M50.0,117.6v3.6M50.9,116.4v3.7M51.7,116.0v3.4M52.5,118.1v1.4M53.4,117.3v2.3M54.2,117.4v3.3M55.1,119.2v3.3M55.9,119.7v2.4M56.7,119.7v3.0M57.5,117.4v2.8M58.4,116.6v4.1M59.2,116.8v2.8M60.0,116.9v2.1M61.2,116.6v2.8M62.2,121.3v2.6M63.1,123.2v2.4M64.0,123.3v3.3M65.0,123.4v2.9M65.9,124.9v1.9M66.8,123.0v3.3M67.8,121.0v2.9M68.7,120.8v1.9M69.7,120.8v3.0M70.6,118.7v3.3M71.5,120.0v1.7M72.5,120.7v3.6M73.5,122.1v2.4M74.4,123.1v1.2M75.2,123.4v2.4M76.1,125.0v2.0M76.9,125.3v2.1M77.7,123.4v2.3M78.5,123.2v2.2M79.4,121.9v2.1M80.2,120.6v2.3M81.0,119.6v2.5M82.0,119.4v1.5M82.9,118.3v3.1M83.8,119.0v3.3M84.8,118.3v3.4M85.8,118.1v2.6M86.7,116.9v3.9M87.6,117.8v1.9M88.4,115.5v2.9M89.3,115.1v4.2M90.2,116.7v1.5M91.0,114.9v2.6M91.9,115.4v2.5M92.7,116.6v3.0M93.4,120.4v1.8M94.2,121.0v2.1M95.2,122.4v2.4M96.1,122.2v4.2M97.0,125.2v1.9M98.0,124.6v3.1M99.0,126.7v2.4M100.0,130.2v1.1M100.9,132.0v1.9M101.8,132.9v2.8M102.7,136.0v1.4M103.7,134.3v2.7M104.7,132.3v4.3M105.7,137.7v1.1M106.6,140.1v3.3M107.6,143.7v2.8M108.5,148.4v2.6M109.4,163.4v2.7M110.3,157.7v2.1M111.3,149.5v2.6M112.2,151.5v2.9M113.2,153.2v1.9M114.2,148.8v2.0M115.1,144.5v2.4M116.0,146.7v3.5M117.0,149.2v3.5M117.9,153.2v2.6M118.7,154.0v3.5M119.5,154.8v2.7M120.3,155.1v3.8M120.7,174.1v3.7M121.7,162.1v3.1M122.6,149.4v3.6M123.5,151.1v3.6M124.5,154.1v2.8M125.5,158.0v1.5M126.4,159.7v1.7M127.4,167.3v2.6M128.3,173.5v2.3M129.2,165.1v3.7M130.2,158.6v2.6M131.1,151.0v2.8M132.0,154.1v3.3M133.0,156.4v3.2M133.9,158.1v3.9M134.8,157.7v1.9M135.8,155.9v2.6M136.8,155.0v1.6M137.7,153.5v1.8M138.6,152.8v1.4M139.6,150.0v3.4M140.5,149.3v3.5M141.5,148.0v3.6M142.4,147.9v3.4M143.4,146.9v2.0M144.3,144.9v2.2M145.2,146.5v2.8M146.2,148.5v2.0M147.1,150.7v2.8M148.0,152.8v2.6M149.0,154.5v2.5M149.9,156.0v2.5M150.9,159.0v2.5M151.8,160.7v2.3M152.8,163.7v2.6M153.7,166.8v1.3M154.6,169.8v1.2M154.6,178.8v2.9M155.6,175.5v3.8M156.5,174.6v2.7M157.5,170.1v2.6M158.4,174.0v3.2M159.4,177.9v3.4M160.3,181.7v2.2M161.2,175.4v3.8M162.2,172.4v3.4M163.1,166.5v3.4M164.0,166.2v2.1M165.0,164.1v2.0M165.9,164.1v1.8M166.8,163.0v1.8M167.8,161.5v2.8M168.8,161.1v2.3M169.7,160.6v3.0M170.8,159.4v3.6M171.9,158.3v3.8M172.9,158.9v1.4M173.8,157.4v3.8M174.7,162.7v2.6M175.6,167.9v2.5M176.4,172.1v2.9M177.2,177.7v3.3M178.3,175.4v1.6M179.4,171.3v4.2M180.4,172.9v2.5M181.3,174.9v1.4M182.2,178.1v2.7M183.2,181.4v2.0M184.1,186.9v1.1M185.1,190.8v3.0M186.0,187.8v2.6M186.9,184.5v2.0M187.9,183.9v2.8M188.8,182.0v2.4M189.8,188.9v2.5M190.7,188.5v3.3M191.6,190.6v1.9M192.6,187.6v2.7M193.5,185.6v2.6M194.5,182.4v3.2M195.4,182.7v3.1M196.4,179.9v3.2M197.3,184.0v1.6M198.2,185.6v2.5M199.2,189.5v2.0M200.1,189.6v2.9M201.1,192.4v2.7M202.0,196.7v1.3M202.9,199.2v2.1M203.9,200.8v2.7M204.8,201.1v2.6M205.7,203.6v1.7M206.7,203.3v2.8M207.6,205.9v2.3M208.6,214.5v3.5M209.6,206.9v4.1M210.5,199.6v3.0M211.4,202.2v1.9M212.4,205.4v3.2M213.3,207.3v2.9M214.2,211.0v2.1M215.2,216.7v2.2M216.1,218.9v1.8M217.1,220.6v3.2M218.0,222.0v3.3M218.9,230.8v2.1M219.9,238.6v3.8M220.9,235.0v1.3M221.8,229.6v2.7M222.7,228.0v3.6M223.7,226.1v3.4M224.6,224.8v1.9M225.6,220.5v2.4M226.5,219.1v2.3M227.4,215.0v2.6M228.4,212.5v2.2M229.3,215.2v3.3M230.3,218.6v1.6M231.2,219.7v3.1M232.1,224.0v2.9M233.1,229.6v3.2M234.0,233.1v2.9M234.9,223.4v3.1M235.9,212.3v3.7M236.9,211.0v3.0M237.8,208.6v3.5M238.7,206.6v3.8M239.6,204.5v4.1M240.6,198.2v2.9M241.5,191.6v3.5M242.5,189.7v2.3M243.4,187.8v2.4M244.4,183.6v3.3M245.3,183.3v1.5M246.3,182.3v2.1M247.2,179.9v2.7M248.1,183.7v1.6M249.0,185.1v3.4M249.9,187.6v1.2M250.9,185.1v2.7M251.8,181.7v2.5M252.8,181.1v1.3M253.7,184.5v1.6M254.6,186.6v3.2M255.6,190.7v1.5M256.5,193.6v1.6M257.5,195.9v2.7M258.4,194.8v3.3M259.4,192.1v2.1M260.3,190.0v4.0M261.2,192.2v2.4M262.2,191.2v3.4M263.1,194.1v1.3M264.1,193.6v3.9M265.0,195.6v2.4M265.9,195.2v2.2M266.9,195.2v3.8M267.8,196.5v1.2M268.8,196.4v2.3M269.7,195.9v3.5M270.6,195.1v2.2M271.6,193.6v1.7M272.5,192.1v2.8M273.5,192.7v2.9M274.4,193.7v3.1M275.4,196.3v2.0M276.3,196.6v2.2M277.3,196.4v3.8M278.2,196.8v2.4M279.1,199.2v2.6M280.1,199.7v1.8M281.0,199.3v3.4M281.9,199.7v3.4M282.9,201.4v2.8M283.9,201.2v3.2M284.8,202.7v2.5M285.8,209.3v2.2M286.7,215.2v2.0M287.6,221.8v2.9M288.5,230.6v1.5M289.5,228.7v2.2M290.4,226.5v2.7M291.4,224.3v2.2M292.3,228.5v2.3M293.3,230.5v4.0M294.2,233.8v2.0M294.9,229.1v2.8M295.7,224.4v2.2M296.6,220.3v1.6M297.6,215.3v4.0M298.5,213.1v2.3M299.4,210.7v2.0M300.4,208.8v2.3M301.3,207.3v2.1M302.2,204.6v2.5M303.2,202.9v2.5M304.1,199.7v3.1M305.1,201.4v3.1M306.0,204.0v2.9M307.0,205.8v1.2M307.9,206.8v2.2M308.9,206.8v2.4M309.8,209.0v3.0M310.7,210.5v2.0M311.7,212.8v1.5M312.6,215.2v1.8M313.5,218.1v2.6M314.5,220.8v2.5M315.4,223.6v3.3M316.4,226.6v3.0M317.3,230.5v2.1M318.3,234.2v1.5M319.2,235.3v3.8M320.2,238.3v3.4M321.1,240.7v1.9M322.0,246.8v2.0M323.0,250.6v2.2M323.9,256.1v2.4M324.9,248.3v3.7M325.8,242.5v2.2M326.7,239.2v3.8M327.7,238.1v2.4M328.6,235.2v2.0M329.5,236.8v3.9M330.5,240.4v3.0M331.4,242.1v2.7M332.4,247.0v3.6M333.3,253.1v1.3M334.3,258.3v2.3M335.2,252.1v2.6M336.2,245.7v3.1M337.1,243.5v1.9M338.1,240.2v2.8M339.0,238.3v3.4M339.9,242.0v2.8M340.9,245.1v2.9M341.8,247.5v4.1M342.7,250.5v2.1M343.7,251.3v2.8M344.6,253.4v2.8M345.6,256.0v3.3M346.5,259.1v2.1M347.5,262.4v1.0M348.4,263.2v2.9M349.4,262.6v3.7M352.0,232.3v3.2M352.2,238.3v2.6M353.1,231.0v2.4M354.1,216.3v3.5M354.5,199.0v1.2M355.2,197.0v1.9M356.0,196.5v2.5M357.1,198.6v3.0M358.1,202.5v2.5M358.9,199.2v0.9M359.7,193.2v3.0M360.5,192.7v3.4M361.3,191.1v3.4M362.2,191.7v1.7M363.0,188.4v4.1M363.8,189.2v2.7M364.7,184.5v2.3M365.5,181.0v2.7M366.4,175.4v3.0M367.2,179.3v2.3M368.0,183.0v2.5M369.0,185.3v2.3M370.1,186.1v3.0M371.1,186.0v3.6M372.1,189.6v2.3M373.2,191.1v3.3M374.0,188.9v1.3M374.9,184.4v2.6M375.7,181.0v1.5M376.6,181.7v2.4M377.4,181.1v2.9M378.3,182.2v3.6M379.2,179.7v2.3M380.0,176.8v3.0M380.9,173.9v2.5M381.8,171.8v2.1M382.6,168.1v3.4M383.5,166.9v2.7M384.6,170.4v2.0M385.6,171.5v1.8M386.5,168.6v2.4M387.3,167.3v2.7M388.2,165.4v1.7M389.1,166.4v2.1M389.9,167.8v4.2M390.8,170.9v1.7M391.8,173.0v2.8M392.9,175.8v3.4M393.9,180.0v2.1M394.8,176.7v2.6M395.6,173.6v3.4M396.5,171.1v2.6M397.5,170.4v3.6M398.6,170.1v3.4M399.6,169.6v2.5M400.5,172.5v2.2M401.3,174.2v2.0M402.2,175.8v3.6M403.1,176.4v2.6M403.9,177.8v2.1M404.8,178.3v2.7M405.7,177.3v1.9M406.5,173.2v3.1M407.4,170.4v2.7M408.2,170.9v1.1M409.0,169.4v2.5M409.9,169.2v2.1M410.7,167.1v2.4M411.5,166.3v3.5M412.5,164.3v3.2M413.6,163.6v1.5M414.6,161.1v1.4M415.4,146.7v2.5M416.3,140.2v2.2M417.2,133.0v2.0M418.1,129.6v2.6M419.1,127.0v1.5M420.1,130.6v3.5M421.0,134.6v2.3M421.9,132.7v2.2M422.9,129.9v2.9M423.8,131.3v1.8M424.8,131.6v3.9M425.7,133.8v1.9M426.6,129.1v2.2M427.6,126.9v2.8M428.5,124.4v1.8M429.5,126.6v2.1M430.4,129.6v1.0M431.4,130.4v4.0M432.4,134.5v2.5M433.3,139.2v2.2M434.2,143.8v2.1M435.2,148.3v3.1M436.1,154.2v3.2M437.0,147.5v2.0M438.0,141.2v2.7M438.9,135.9v1.5M440.0,140.6v3.6M440.9,141.5v3.5M441.9,142.8v2.3M442.9,142.8v3.0M443.8,144.2v2.6M444.7,145.7v1.8M445.7,147.6v2.1M446.6,149.0v1.6M447.5,151.7v2.2M448.5,153.9v3.4M449.4,155.8v3.6M450.4,153.8v1.9M451.3,150.3v2.2M452.2,146.8v1.9M453.2,145.1v1.2M454.1,141.4v2.0M455.1,144.2v3.7M456.0,149.9v1.9M457.0,126.5v2.3M457.9,127.6v1.4M458.9,130.0v2.2M459.8,131.3v2.1M460.7,132.1v3.1M461.6,134.5v2.1M462.5,137.1v2.2M463.4,139.5v1.6M464.2,142.5v1.8M465.1,143.1v2.7M465.9,146.5v1.8M466.8,149.8v1.5M467.6,151.4v3.4M468.5,155.6v2.5M469.3,159.6v2.0M470.1,161.8v3.6M471.0,164.1v2.5M471.9,166.2v3.9M472.7,169.0v3.0M473.6,172.2v2.3M474.4,174.7v2.8M475.3,177.0v3.1M476.1,181.1v2.5M477.0,186.9v2.0M477.8,196.6v2.0M478.6,214.1v2.8M479.5,205.9v1.6M480.3,196.0v2.4M481.1,208.5v1.8M482.0,220.3v1.9M482.9,208.6v2.9M483.7,197.9v2.9M484.6,194.6v3.3M485.4,189.9v3.1M486.3,188.2v3.0M487.1,192.2v2.7M488.0,195.9v3.3M488.8,193.1v4.0M489.7,192.4v2.2M490.5,189.5v2.7M491.3,187.6v2.0M492.2,186.0v3.1M493.0,185.0v1.7M493.9,182.8v1.7M494.7,181.1v2.0M495.6,178.2v1.0M496.4,174.1v2.3M497.3,169.9v1.8M498.1,171.1v3.1M499.0,175.1v2.7M499.8,177.0v2.5M500.6,175.3v2.2M501.5,172.1v2.9M502.4,168.3v2.5M503.4,163.7v2.7M504.3,160.3v2.8M505.1,165.7v3.8M505.8,173.3v2.6M506.6,179.0v3.2M507.5,181.8v3.7M508.3,186.6v1.7M509.2,189.2v2.4M510.1,196.1v1.2M511.1,201.5v3.5M512.0,207.4v2.8M513.0,202.0v2.8M514.0,196.9v2.7M515.0,191.6v4.3M515.8,192.4v2.2M516.5,191.2v1.1M517.3,189.8v2.6M518.0,177.8v2.8M519.0,180.2v1.4M520.0,180.8v2.6M521.0,181.3v2.0M521.8,183.0v3.8M522.6,186.8v2.0M523.4,188.9v3.3M524.1,191.0v3.3M524.9,193.6v3.0M525.6,188.9v2.5M526.4,186.3v1.3M527.1,182.8v2.9M527.9,181.1v1.9M528.6,187.3v1.4M529.4,192.3v2.1M530.5,196.5v2.4M531.6,200.4v2.1M532.4,202.6v1.9M533.1,204.4v1.0M533.9,205.2v3.0M534.7,209.9v1.3M535.4,211.5v3.5M536.2,215.5v2.7M537.3,211.2v2.4M538.4,206.9v3.0M539.2,205.9v1.9M539.9,202.2v3.1M540.7,201.1v3.0M541.8,199.5v4.1M542.9,200.0v3.1M543.7,197.8v2.4M544.4,197.7v1.2M545.2,196.1v1.1M546.2,193.9v2.8M547.2,192.3v2.3M548.2,191.8v1.2M549.0,190.7v2.5M549.7,192.3v3.2M550.5,192.6v3.5" fill="none" stroke="#131722" stroke-width="1.1"/>
<polyline points="526.9,182 536.3,217.8 550.4,194.3" fill="none" stroke="#9c6fc8" stroke-width="1" stroke-dasharray="2,2"/>
<line x1="550.4" y1="195.2" x2="576.4" y2="237.3" stroke="#9080b4" stroke-width="1.3" stroke-dasharray="3,3"/>
<path d="M572.9,235.4 L576.4,237.3 L576.3,233.3" fill="none" stroke="#9080b4" stroke-width="1.1"/>
<circle cx="356.4" cy="252" r="17" fill="none" stroke="#f0a030" stroke-width="1.8"/>
<g transform="translate(21.4,402.8)"><circle r="6.4" fill="#fff" stroke="#5e35b1" stroke-width="1.2"/><path d="M-3.2,-2.3 L1.2,0.6 M-3,2.4 L-1.2,1" fill="none" stroke="#5e35b1" stroke-width="1.1"/><path d="M0.6,-1.6 L4,0.5 L0.6,2.6 Z" fill="#5e35b1"/></g>
<g transform="translate(128.1,402.8)"><circle r="6.4" fill="#fff" stroke="#5e35b1" stroke-width="1.2"/><path d="M-3.2,-2.3 L1.2,0.6 M-3,2.4 L-1.2,1" fill="none" stroke="#5e35b1" stroke-width="1.1"/><path d="M0.6,-1.6 L4,0.5 L0.6,2.6 Z" fill="#5e35b1"/></g>
<g transform="translate(240.3,402.8)"><circle r="6.4" fill="#fff" stroke="#5e35b1" stroke-width="1.2"/><path d="M-3.2,-2.3 L1.2,0.6 M-3,2.4 L-1.2,1" fill="none" stroke="#5e35b1" stroke-width="1.1"/><path d="M0.6,-1.6 L4,0.5 L0.6,2.6 Z" fill="#5e35b1"/></g>
<g transform="translate(350.8,402.8)"><circle r="6.4" fill="#fff" stroke="#5e35b1" stroke-width="1.2"/><path d="M-3.2,-2.3 L1.2,0.6 M-3,2.4 L-1.2,1" fill="none" stroke="#5e35b1" stroke-width="1.1"/><path d="M0.6,-1.6 L4,0.5 L0.6,2.6 Z" fill="#5e35b1"/></g>
<g transform="translate(457.4,402.8)"><circle r="6.4" fill="#fff" stroke="#5e35b1" stroke-width="1.2"/><path d="M-3.2,-2.3 L1.2,0.6 M-3,2.4 L-1.2,1" fill="none" stroke="#5e35b1" stroke-width="1.1"/><path d="M0.6,-1.6 L4,0.5 L0.6,2.6 Z" fill="#5e35b1"/></g>
<g transform="translate(564.9,402.8)"><circle r="6.4" fill="#fff" stroke="#5e35b1" stroke-width="1.2"/><path d="M-3.2,-2.3 L1.2,0.6 M-3,2.4 L-1.2,1" fill="none" stroke="#5e35b1" stroke-width="1.1"/><path d="M0.6,-1.6 L4,0.5 L0.6,2.6 Z" fill="#5e35b1"/></g>
<g transform="translate(694.1,402.8)"><circle r="6.4" fill="#fff" stroke="#5e35b1" stroke-width="1.2"/><path d="M-3.2,-2.3 L1.2,0.6 M-3,2.4 L-1.2,1" fill="none" stroke="#5e35b1" stroke-width="1.1"/><path d="M0.6,-1.6 L4,0.5 L0.6,2.6 Z" fill="#5e35b1"/></g>
<text x="118.4" y="74.5" font-size="10.5" fill="#4caf50" font-weight="normal" text-anchor="middle">(w)</text>
<text x="87.3" y="109.8" font-size="9.5" fill="#3b62d4" font-weight="bold" text-anchor="middle">c</text>
<g><circle cx="117.9" cy="184.4" r="4.6" fill="none" stroke="#f0525e" stroke-width="0.9"/><text x="117.9" y="186.8" font-size="6.5" fill="#f0525e" text-anchor="middle">A</text></g>
<g><circle cx="167.3" cy="152.4" r="4.6" fill="none" stroke="#f0525e" stroke-width="0.9"/><text x="167.3" y="154.8" font-size="6.5" fill="#f0525e" text-anchor="middle">B</text></g>
<g><circle cx="384.3" cy="156.2" r="4.6" fill="none" stroke="#f0525e" stroke-width="0.9"/><text x="384.3" y="158.6" font-size="6.5" fill="#f0525e" text-anchor="middle">A</text></g>
<g><circle cx="394.3" cy="192.9" r="4.6" fill="none" stroke="#f0525e" stroke-width="0.9"/><text x="394.3" y="195.3" font-size="6.5" fill="#f0525e" text-anchor="middle">B</text></g>
<g><circle cx="428" cy="115.3" r="4.6" fill="none" stroke="#f0525e" stroke-width="0.9"/><text x="428" y="117.7" font-size="6.5" fill="#f0525e" text-anchor="middle">C</text></g>
<g><circle cx="346.9" cy="277.5" r="4.6" fill="none" stroke="#f0525e" stroke-width="0.9"/><text x="346.9" y="279.9" font-size="6.5" fill="#f0525e" text-anchor="middle">C</text></g>
<g><circle cx="482.2" cy="242.3" r="4.6" fill="none" stroke="#f0525e" stroke-width="0.9"/><text x="482.2" y="244.70000000000002" font-size="6.5" fill="#f0525e" text-anchor="middle">W</text></g>
<g><circle cx="574.9" cy="185.8" r="4.6" fill="none" stroke="#f0525e" stroke-width="0.9"/><text x="574.9" y="188.20000000000002" font-size="6.5" fill="#f0525e" text-anchor="middle">X</text></g>
<g><circle cx="584.9" cy="256.8" r="4.6" fill="none" stroke="#f0525e" stroke-width="0.9"/><text x="584.9" y="259.2" font-size="6.5" fill="#f0525e" text-anchor="middle">Y</text></g>
<text x="399.9" y="161" font-size="8" fill="#4caf50" font-weight="normal" text-anchor="middle">(1)</text>
<text x="405.9" y="196" font-size="8" fill="#4caf50" font-weight="normal" text-anchor="middle">(2)</text>
<text x="418.9" y="118.2" font-size="8.5" fill="#4caf50" font-weight="normal" text-anchor="middle">(3)</text>
<text x="426.9" y="148.9" font-size="8.5" fill="#4caf50" font-weight="normal" text-anchor="middle">(4)</text>
<text x="436" y="165.8" font-size="8.5" fill="#4caf50" font-weight="normal" text-anchor="middle">(A)</text>
<text x="458.9" y="120.8" font-size="8.5" fill="#4caf50" font-weight="normal" text-anchor="middle">(B)</text>
<text x="482.2" y="237.8" font-size="8" fill="#4caf50" font-weight="normal" text-anchor="middle">(C)</text>
<text x="545.7" y="179.4" font-size="8" fill="#4caf50" font-weight="normal" text-anchor="middle">(B)</text>
<text x="536.3" y="237.8" font-size="8" fill="#4caf50" font-weight="normal" text-anchor="middle">(A)</text>
<text x="582.7" y="251.3" font-size="8" fill="#4caf50" font-weight="normal" text-anchor="middle">(C)</text>
<text x="540.1" y="191.6" font-size="8" fill="#3b62d4" font-weight="normal" text-anchor="middle">A</text>
<text x="544.8" y="187.9" font-size="8" fill="#3b62d4" font-weight="normal" text-anchor="middle">C</text>
<text x="542.9" y="224.6" font-size="8" fill="#3b62d4" font-weight="normal" text-anchor="middle">B</text>
<text x="429.5" y="108.8" font-size="10.5" fill="#3b62d4" font-weight="bold" text-anchor="middle">b</text>
<text x="346.4" y="293.6" font-size="9" fill="#3b62d4" font-weight="bold" text-anchor="middle">a</text>
<text x="596.8" y="272.6" font-size="9" fill="#3b62d4" font-weight="bold" text-anchor="middle">c</text>
<text x="697.8" y="162.8" font-size="9.5" fill="#3b62d4" font-weight="bold" text-anchor="middle">d</text>
<text x="822.3" y="222.4" font-size="9" fill="#3b62d4" font-weight="bold" text-anchor="middle">e</text>
<text x="834.4" y="246.3" font-size="10" fill="#4caf50" font-weight="normal" text-anchor="middle">(x)</text>
<text x="360.3" y="250" font-size="9.2" fill="#e8505f" textLength="66.7" lengthAdjust="spacingAndGlyphs">ценовой гэп на</text>
<text x="360.3" y="259.8" font-size="9.2" fill="#e8505f" textLength="79.5" lengthAdjust="spacingAndGlyphs">смене контрактов</text>
<text x="479.6" y="41.6" font-size="12.6" fill="#5375d0" textLength="138.5" lengthAdjust="spacingAndGlyphs">t.me/a_belkina_invest</text>
<text x="479.6" y="54.7" font-size="12.6" fill="#5375d0" textLength="127.5" lengthAdjust="spacingAndGlyphs">t.me/MarketViewBot</text>
<text x="691" y="48.4" font-size="15.5" fill="#222" textLength="197" lengthAdjust="spacingAndGlyphs">Фьючерс на индекс ММВБ</text>
<text x="707.1" y="76.3" font-size="15" fill="#d9364a" font-weight="bold" textLength="198" lengthAdjust="spacingAndGlyphs">Вариант 2 - восходящая КД</text>
<text x="719.5" y="265.7" font-size="11" fill="#363840" font-weight="bold" textLength="154" lengthAdjust="spacingAndGlyphs">(x) может принять любую</text>
<text x="719.5" y="277.5" font-size="11" fill="#363840" font-weight="bold" textLength="107" lengthAdjust="spacingAndGlyphs">форму коррекции</text>
<line x1="93" y1="119.5" x2="95" y2="122.5" stroke="#f0a030" stroke-width="1.2"/>
<circle cx="485.4" cy="189.2" r="1" fill="#e05050"/>
<circle cx="8.5" cy="134" r="2" fill="none" stroke="#e53945" stroke-width="1.3"/>
<g fill="#131722"><path d="M7,515.3 H12.7 V521.8 H9.9 V517.7 H7 Z"/><circle cx="14.3" cy="516.6" r="1.35"/><path d="M14.4,521.8 L17.3,515.3 H19.9 L17,521.8 Z"/></g>
<text x="23.8" y="522.2" font-size="9.8" fill="#2f3241" textLength="46.8" lengthAdjust="spacingAndGlyphs">TradingView</text>
</svg></body></html>
